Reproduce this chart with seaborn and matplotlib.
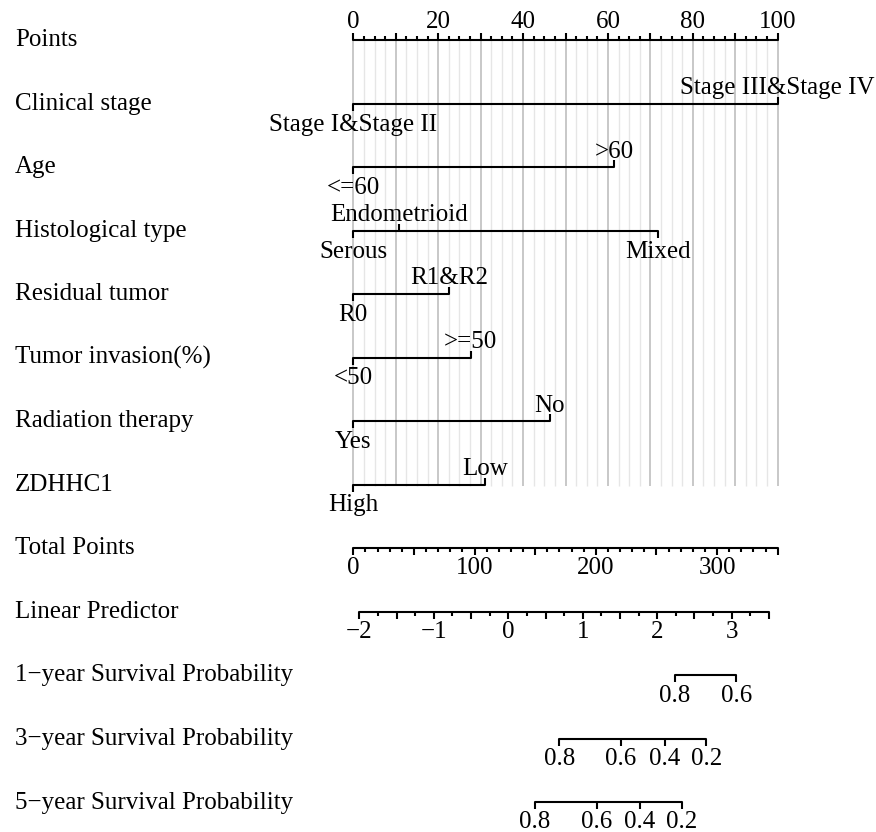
import numpy as np
import pandas as pd
import matplotlib
matplotlib.use("Agg")
import matplotlib.pyplot as plt
import matplotlib.transforms as mtransforms
import seaborn as sns

# ---- model scores (nomogram points per level) ----
predictors = ["Clinical stage", "Age", "Histological type", "Residual tumor",
              "Tumor invasion(%)", "Radiation therapy", "ZDHHC1"]
clinical_levels = ["Stage I&Stage II", "Stage III&Stage IV"]
clinical_points = [0, 100]
age_levels = ["<=60", ">60"]
age_points = [0, 61.4]
histology_levels = ["Serous", "Endometrioid", "Mixed"]
histology_points = [0, 10.8, 71.8]
residual_levels = ["R0", "R1&R2"]
residual_points = [0, 22.5]
invasion_levels = ["<50", ">=50"]
invasion_points = [0, 27.7]
radiation_levels = ["Yes", "No"]
radiation_points = [0, 46.3]
zdhhc1_levels = ["High", "Low"]
zdhhc1_points = [0, 31.1]

# ---- scales ----
points_ticks = [0, 20, 40, 60, 80, 100]
total_points_ticks = [0, 100, 200, 300]
total_points_max = 350
lp_ticks = [-2, -1, 0, 1, 2, 3]
lp_range = [-2, 3.5]
lp_zero_total_points = 127.8      # total points where linear predictor = 0
total_points_per_lp = 61.4        # total points per unit of linear predictor

survival_labels = ["1\u2212year Survival Probability",
                   "3\u2212year Survival Probability",
                   "5\u2212year Survival Probability"]
baseline_survival = [0.9764, 0.8937, 0.8556]
survival_ticks = [[0.8, 0.6],
                  [0.8, 0.6, 0.4, 0.2],
                  [0.8, 0.6, 0.4, 0.2]]

sns.set_theme(style="white")
plt.rcParams["font.family"] = ["Liberation Serif", "DejaVu Serif"]
plt.rcParams["text.color"] = "black"
FS = 18
LW = 1.5

fig = plt.figure(figsize=(8.76, 8.32), dpi=100)
ax = fig.add_axes([0, 0, 1, 1])

row_y = [40 + 63.5 * i for i in range(13)]
label_tf = mtransforms.blended_transform_factory(fig.transFigure, ax.transData)


def tp_to_x(tp):
    return np.asarray(tp, dtype=float) * 100.0 / total_points_max


def lp_to_x(lp):
    return tp_to_x(lp_zero_total_points + total_points_per_lp * np.asarray(lp, dtype=float))


# background reference lines of the points scale
for v in np.arange(0, 100.01, 2.5):
    major = np.isclose(v % 10, 0)
    ax.vlines(v, row_y[0], row_y[7] + 1, color="#c4c4c4" if major else "#e6e6e6",
              lw=1.3 if major else 1.0, zorder=0)

# horizontal scale lines, drawn as segments
segments = []
level_sets = [(clinical_levels, clinical_points), (age_levels, age_points),
              (histology_levels, histology_points), (residual_levels, residual_points),
              (invasion_levels, invasion_points), (radiation_levels, radiation_points),
              (zdhhc1_levels, zdhhc1_points)]
segments.append(("Points", 0, row_y[0]))
segments.append(("Points", 100, row_y[0]))
for i, (lv, pts) in enumerate(level_sets):
    segments.append((predictors[i], min(pts), row_y[i + 1]))
    segments.append((predictors[i], max(pts), row_y[i + 1]))
segments.append(("Total", float(tp_to_x(0)), row_y[8]))
segments.append(("Total", float(tp_to_x(total_points_max)), row_y[8]))
segments.append(("LP", float(lp_to_x(lp_range[0])), row_y[9]))
segments.append(("LP", float(lp_to_x(lp_range[1])), row_y[9]))

surv_lp = []
for k, (s0, probs) in enumerate(zip(baseline_survival, survival_ticks)):
    lps = np.log(-np.log(np.array(probs))) - np.log(-np.log(s0))
    surv_lp.append(lps)
    segments.append((survival_labels[k], float(lp_to_x(lps.min())), row_y[10 + k]))
    segments.append((survival_labels[k], float(lp_to_x(lps.max())), row_y[10 + k]))

seg_df = pd.DataFrame(segments, columns=["scale", "x", "y"])
sns.lineplot(data=seg_df, x="x", y="y", units="scale", estimator=None,
             color="black", lw=LW, sort=False, ax=ax, legend=False)
ax.set_xlim(-83.25, 123.16)
ax.set_ylim(832, 0)
ax.axis("off")

# row labels
row_names = ["Points"] + predictors + ["Total Points", "Linear Predictor"] + survival_labels
for i, name in enumerate(row_names):
    ax.text(15 / 876, row_y[i] + 6.5, name, transform=label_tf, fontsize=FS,
            ha="left", va="baseline")

# points scale ticks (upwards) and labels
y0 = row_y[0]
for v in np.arange(0, 100.01, 2.5):
    ln = 7 if np.isclose(v % 10, 0) else 4
    ax.vlines(v, y0 - ln, y0, color="black", lw=LW)
for v in points_ticks:
    ax.text(v, y0 - 12, f"{v}", fontsize=FS, ha="center", va="baseline")

# predictor levels: labels alternate below / above the line
for i, (lv, pts) in enumerate(level_sets):
    y = row_y[i + 1]
    order = np.argsort(pts, kind="stable")
    for rank, j in enumerate(order):
        above = rank % 2 == 1
        if above:
            ax.vlines(pts[j], y - 7, y, color="black", lw=LW)
            ax.text(pts[j], y - 9.5, lv[j], fontsize=FS, ha="center", va="baseline")
        else:
            ax.vlines(pts[j], y, y + 7, color="black", lw=LW)
            ax.text(pts[j], y + 27, lv[j], fontsize=FS, ha="center", va="baseline")

# total points scale
y = row_y[8]
for v in range(0, total_points_max + 1, 10):
    ln = 7 if v % 50 == 0 else 4
    ax.vlines(tp_to_x(v), y, y + ln, color="black", lw=LW)
for v in total_points_ticks:
    ax.text(tp_to_x(v), y + 26, f"{v}", fontsize=FS, ha="center", va="baseline")

# linear predictor scale
y = row_y[9]
for v in np.arange(lp_range[0], lp_range[1] + 0.001, 0.25):
    ln = 7 if np.isclose(v % 0.5, 0) else 4
    ax.vlines(lp_to_x(v), y, y + ln, color="black", lw=LW)
for v in lp_ticks:
    lab = f"{v}".replace("-", "\u2212")
    ax.text(lp_to_x(v), y + 27, lab, fontsize=FS, ha="center", va="baseline")

# survival probability scales
for k, probs in enumerate(survival_ticks):
    y = row_y[10 + k]
    for p, lp in zip(probs, surv_lp[k]):
        ax.vlines(lp_to_x(lp), y, y + 7, color="black", lw=LW)
        ax.text(lp_to_x(lp), y + 26.5, f"{p:.1f}", fontsize=FS, ha="center", va="baseline")

fig.savefig("out.png", dpi=100, facecolor="white")
